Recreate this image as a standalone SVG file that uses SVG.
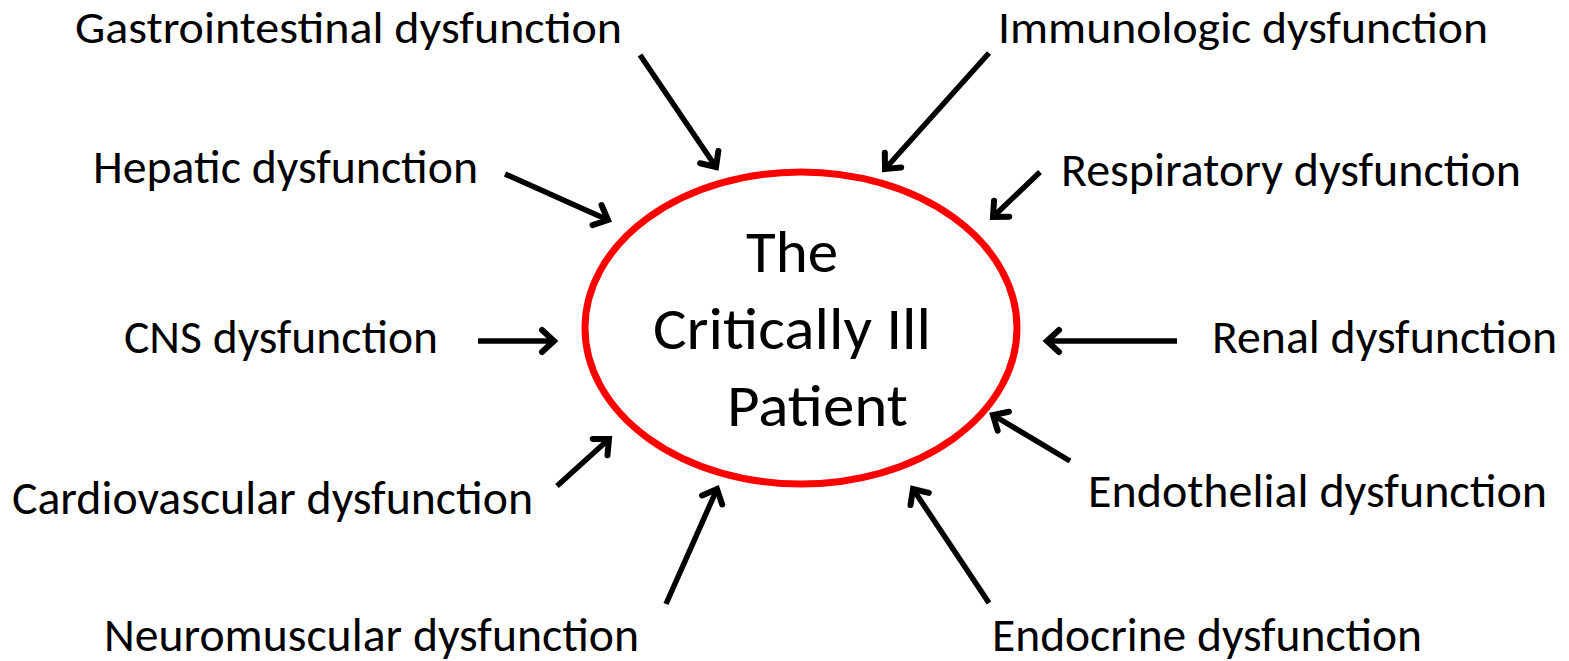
<svg xmlns="http://www.w3.org/2000/svg" width="1569" height="661" viewBox="0 0 1569 661">
  <style>
    .lbl { font-family: Carlito, "Open Sans", "Liberation Sans", sans-serif; font-size: 47px; fill: #000; }
    .top { font-size: 45px; }
    .core { font-family: Carlito, "Open Sans", "Liberation Sans", sans-serif; font-size: 60px; fill: #000; }
    .arrow { stroke: #000; stroke-width: 5.5; fill: none; marker-end: url(#chev); }
  </style>
  <defs>
    <marker id="chev" markerUnits="userSpaceOnUse" markerWidth="34" markerHeight="34" viewBox="-18 -17 22 34" refX="0" refY="0" orient="auto">
      <path d="M-12,-11 L0,0 L-12,11" fill="none" stroke="#000" stroke-width="6" stroke-linecap="round" stroke-linejoin="miter"/>
    </marker>
  </defs>
  <rect width="1569" height="661" fill="#fff"/>

  <!-- centre node -->
  <g id="patient">
    <ellipse cx="801" cy="328" rx="216" ry="156" fill="none" stroke="#ff0000" stroke-width="7"/>
    <text class="core" x="746" y="272" textLength="92" lengthAdjust="spacingAndGlyphs">The</text>
    <text class="core" x="653" y="349" textLength="278" lengthAdjust="spacingAndGlyphs">Critically Ill</text>
    <text class="core" x="727" y="426" textLength="181" lengthAdjust="spacingAndGlyphs">Patient</text>
  </g>

  <!-- organ dysfunction labels -->
  <g id="gastro"><text class="lbl top" x="75" y="43" textLength="547" lengthAdjust="spacingAndGlyphs">Gastrointestinal dysfunction</text></g>
  <g id="immuno"><text class="lbl top" x="998" y="43" textLength="490" lengthAdjust="spacingAndGlyphs">Immunologic dysfunction</text></g>
  <g id="hepatic"><text class="lbl" x="93" y="183" textLength="385" lengthAdjust="spacingAndGlyphs">Hepatic dysfunction</text></g>
  <g id="resp"><text class="lbl" x="1061" y="186" textLength="460" lengthAdjust="spacingAndGlyphs">Respiratory dysfunction</text></g>
  <g id="cns"><text class="lbl" x="124" y="353" textLength="314" lengthAdjust="spacingAndGlyphs">CNS dysfunction</text></g>
  <g id="renal"><text class="lbl" x="1212" y="353" textLength="345" lengthAdjust="spacingAndGlyphs">Renal dysfunction</text></g>
  <g id="cardio"><text class="lbl" x="12" y="514" textLength="521" lengthAdjust="spacingAndGlyphs">Cardiovascular dysfunction</text></g>
  <g id="endothelial"><text class="lbl" x="1088" y="507" textLength="459" lengthAdjust="spacingAndGlyphs">Endothelial dysfunction</text></g>
  <g id="neuro"><text class="lbl" x="104" y="651" textLength="535" lengthAdjust="spacingAndGlyphs">Neuromuscular dysfunction</text></g>
  <g id="endocrine"><text class="lbl" x="992" y="651" textLength="430" lengthAdjust="spacingAndGlyphs">Endocrine dysfunction</text></g>

  <!-- connectors -->
  <g id="connectors">
    <line class="arrow" x1="640" y1="55" x2="716" y2="167"/>
    <line class="arrow" x1="989" y1="53" x2="885" y2="169"/>
    <line class="arrow" x1="505" y1="174" x2="608" y2="220"/>
    <line class="arrow" x1="1040" y1="172" x2="993" y2="217"/>
    <line class="arrow" x1="478" y1="341" x2="554" y2="341"/>
    <line class="arrow" x1="1177" y1="341" x2="1047" y2="341"/>
    <line class="arrow" x1="557" y1="486" x2="609" y2="439"/>
    <line class="arrow" x1="666" y1="604" x2="717" y2="489"/>
    <line class="arrow" x1="1070" y1="461" x2="993" y2="415"/>
    <line class="arrow" x1="989" y1="603" x2="913" y2="489"/>
  </g>
</svg>
